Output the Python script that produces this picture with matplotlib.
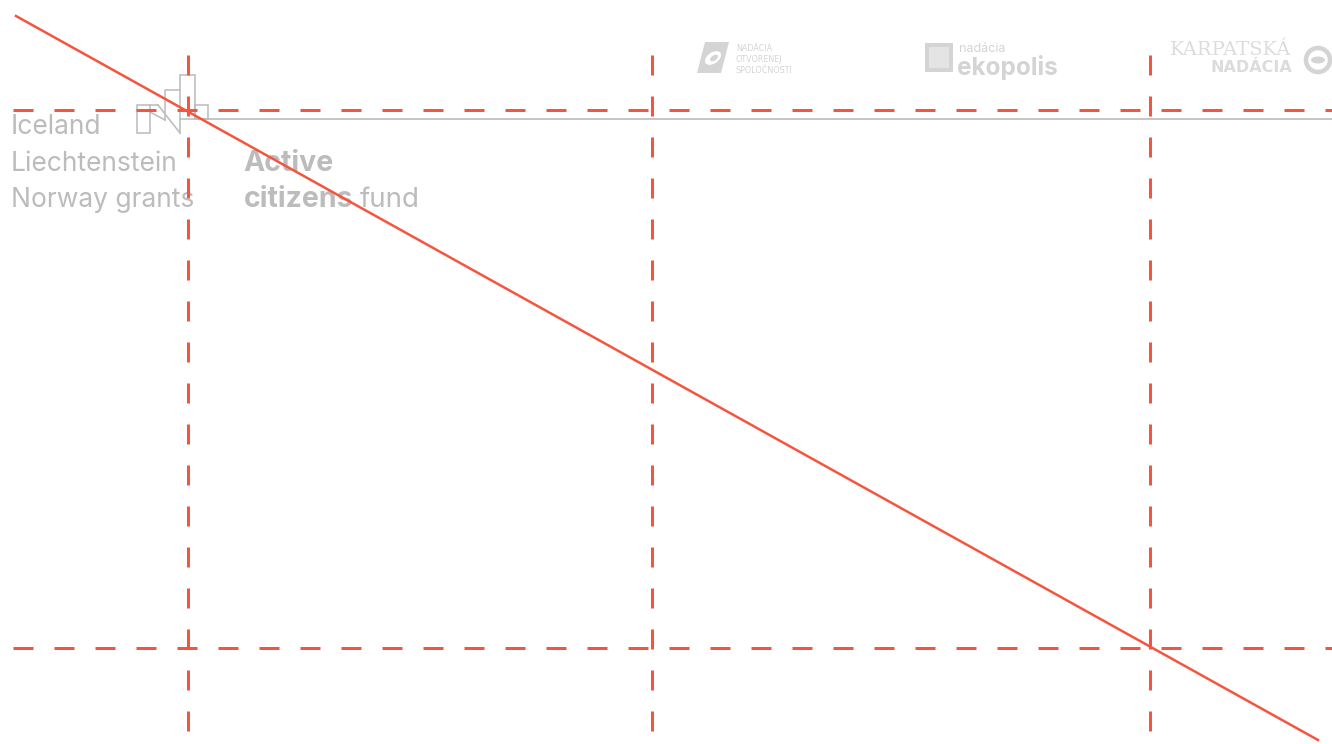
import matplotlib.pyplot as plt
from matplotlib.patches import Rectangle, Polygon, Circle, Ellipse

plt.rcParams['lines.scale_dashes'] = False

# guide positions (pixels of the 1332x744 canvas)
v_guides = [188, 652, 1150]
h_guides = [110, 648]
diag_x = [16, 1318]
diag_y = [16, 740]

# logo text lines
left_lines = ['Iceland', 'Liechtenstein', 'Norway grants']
left_base = [134, 171, 207]

RED = '#f5553f'
GREY = '#bcbcbc'
LIGHT = '#d4d4d4'

W, H = 1332, 744
fig = plt.figure(figsize=(W / 100, H / 100), dpi=100)
ax = fig.add_axes([0, 0, 1, 1])
ax.set_xlim(0, W)
ax.set_ylim(H, 0)
ax.axis('off')

px = 0.72  # pixels -> points at dpi 100
dash = (20 * px, 21 * px)
ic = dict(color='#bdbdbd', lw=1.6 * px, zorder=2)

# grey rule under the logo
ax.plot([195, W], [119, 119], color='#c6c6c6', lw=2 * px, zorder=2)

# building icon
for (x0, y0, w, h) in [(137, 105, 13, 28), (180, 75, 15, 44), (195, 105, 13, 14)]:
    ax.add_patch(Rectangle((x0, y0), w, h, fill=False, ec='#bdbdbd', lw=1.6 * px, zorder=2))
ax.plot([150, 158], [105, 105], **ic)
ax.plot([158, 180], [105, 133], **ic)
ax.plot([150, 165], [112, 120], **ic)
ax.plot([165, 165, 180], [120, 90, 90], **ic)
ax.plot([180, 180], [119, 133], **ic)

# left logo text
for txt, yb in zip(left_lines, left_base):
    ax.text(11, yb, txt, fontsize=19, family='Inter', color=GREY, va='baseline', zorder=3)
ax.text(243, 171, 'Active', fontsize=20.5, family='Inter', weight='bold', color=GREY, va='baseline', zorder=3)
ax.text(244, 207, 'citizens', fontsize=20.5, family='Inter', weight='bold', color=GREY, va='baseline', zorder=3)
ax.text(360, 207, 'fund', fontsize=20, family='Inter', color=GREY, va='baseline', zorder=3)

# partner logos along the top
ax.add_patch(Polygon([(705, 42), (729, 42), (721, 73), (697, 73)], fc=LIGHT, ec='none', zorder=2))
ax.add_patch(Ellipse((713, 58), 18, 11, angle=-35, fc='white', ec='none', zorder=2))
ax.add_patch(Ellipse((714, 58), 9, 5, angle=-35, fc=LIGHT, ec='none', zorder=2))
for txt, yb in [('NADÁCIA', 51), ('OTVORENEJ', 62), ('SPOLOČNOSTI', 73)]:
    ax.text(736, yb, txt, fontsize=5.8, family='DejaVu Sans', color=LIGHT, va='baseline', zorder=3)

ax.add_patch(Rectangle((925, 43), 28, 29, fc=LIGHT, ec='none', zorder=2))
ax.add_patch(Rectangle((929, 47), 20, 21, fc='#e4e4e4', ec='none', zorder=2))
ax.text(959, 52, 'nadácia', fontsize=9, family='Inter', color=LIGHT, va='baseline', zorder=3)
ax.text(957, 75, 'ekopolis', fontsize=17.5, family='Inter', weight='bold', color=LIGHT, va='baseline', zorder=3)

ax.text(1170, 55, 'KARPATSKÁ', fontsize=14, family='DejaVu Serif', color='#dcdcdc', va='baseline', zorder=3)
ax.text(1292, 72, 'NADÁCIA', fontsize=11.5, family='DejaVu Sans', weight='bold', color='#dcdcdc',
        va='baseline', ha='right', zorder=3)
ax.add_patch(Circle((1318, 60), 12, fill=False, ec=LIGHT, lw=4.5 * px, zorder=2))
ax.add_patch(Ellipse((1318, 60), 14, 7, fc=LIGHT, ec='none', zorder=2))

# red layout guides
for x in v_guides:
    ax.plot([x, x], [55, H], color=RED, lw=3 * px, dashes=dash, dash_capstyle='butt', zorder=4)
for y in h_guides:
    ax.plot([13, W], [y, y], color=RED, lw=3 * px, dashes=dash, dash_capstyle='butt', zorder=4)
ax.plot(diag_x, diag_y, color=RED, lw=2.5 * px, zorder=5)

fig.savefig('out.png', dpi=100, facecolor='white')
